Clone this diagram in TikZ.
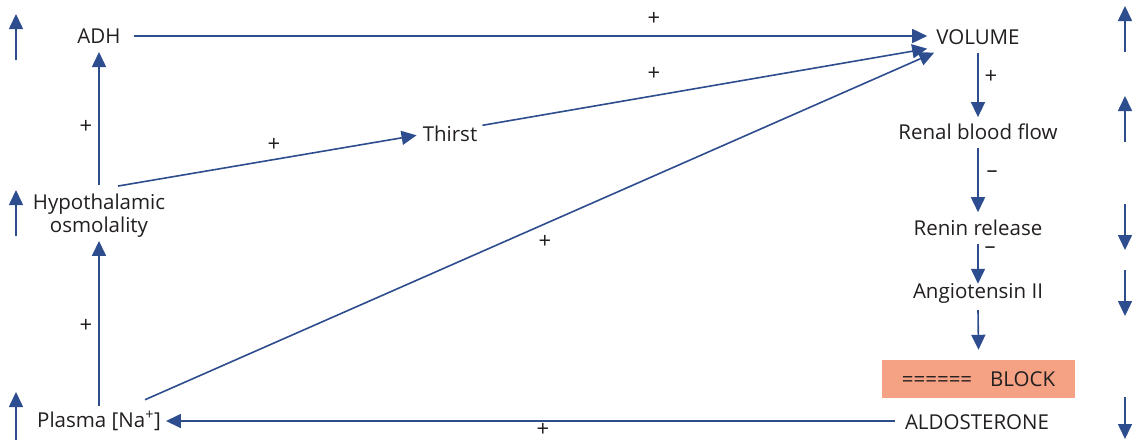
\documentclass[tikz,border=0pt]{standalone}
\usepackage{fontspec}
\setmainfont{Open Sans}
\usetikzlibrary{arrows.meta,calc}
\definecolor{ab}{HTML}{2E4D8E}
\definecolor{tx}{HTML}{231F20}
\definecolor{blk}{HTML}{F4A184}
\begin{document}
\begin{tikzpicture}[x=1pt,y=-1pt,
  lbl/.style={font=\fontsize{20.5}{23}\selectfont, text=tx, inner sep=0pt, anchor=base},
  sgn/.style={font=\fontsize{22}{24}\selectfont, text=tx, inner sep=0pt},
  arr/.style={draw=ab, line width=1.6pt, -{Triangle[width=14pt,length=15pt]}}]
\useasboundingbox (0,0) rectangle (1133,440);
\fill[white] (0,0) rectangle (1133,440);

% nodes
\node[lbl] (adh) at (99,43) {ADH};
\node[lbl] (vol) at (978,44) {VOLUME};
\node[lbl] (thirst) at (450,141) {Thirst};
\node[lbl, anchor=center, align=center] (hypo) at (99,216) {Hypothalamic\\osmolality};
\node[lbl] (plasma) at (99,427) {Plasma [Na\textsuperscript{+}]};
\node[lbl] (renal) at (978,139) {Renal blood flow};
\node[lbl] (renin) at (978,235) {Renin release};
\node[lbl] (angio) at (978,298) {Angiotensin II};
\node[fill=blk, minimum width=193pt, minimum height=38pt, inner sep=0pt,
      font=\fontsize{20.5}{23}\selectfont, text=tx] (block) at (978.5,379) {======\hspace{18pt}BLOCK};
\node[lbl] (aldo) at (977,429) {ALDOSTERONE};

% connectors
\draw[arr] ($(adh.base east)+(13,-7)$) -- ($(vol.base west)+(-9,-8)$);
\draw[arr] ($(hypo.north)+(0,-9)$) -- ($(adh.base)+(0,9)$);
\draw[arr] ($(plasma.north)+(0,-5)$) -- ($(hypo.south)+(0,3)$);
\draw[arr] ($(hypo.north)+(19,-8)$) -- ($(thirst.west)+(-6,2)$);
\draw[arr] ($(thirst.east)+(5,-8)$) -- ($(vol.west)+(-9,12)$);
\draw[arr] ($(plasma.north)+(46,-11)$) -- ($(vol.west)+(-2,16)$);
\draw[arr] ($(vol.base)+(0,9)$) -- ($(renal.north)+(0,-6)$);
\draw[arr] ($(renal.base)+(0,9)$) -- ($(renin.north)+(0,-7)$);
\draw[arr] ($(renin.base)+(0,9)$) -- ($(angio.north)+(0,1)$);
\draw[arr] ($(angio.south)+(0,7)$) -- ($(block.north)+(0,-10)$);
\coordinate (a1) at ($(aldo.base west)+(-10,-8)$);
\draw[arr] (a1) -- ($(a1 -| plasma.east)+(5,0)$);

% signs
\node[sgn] (s1) at (654,19) {+};
\node[sgn] (s2) at (654,74) {+};
\node[sgn] (s3) at (274,145) {+};
\node[sgn] (s4) at (545,242) {+};
\node[sgn] (s5) at (86,127) {+};
\node[sgn] (s6) at (86,326) {+};
\node[sgn] (s7) at (991,77) {+};
\node[sgn] (s8) at (992,174) {–};
\node[sgn] (s9) at (990,250) {–};
\node[sgn] (s10) at (543,430) {+};

% side indicator arrows
\coordinate (l1a) at (16,60);  \coordinate (l1b) at (16,14);
\coordinate (l2a) at (16,236); \coordinate (l2b) at (16,190);
\coordinate (l3a) at (16,440); \coordinate (l3b) at (16,392);
\coordinate (r1a) at (1125,52);  \coordinate (r1b) at (1125,6);
\coordinate (r2a) at (1125,142); \coordinate (r2b) at (1125,96);
\coordinate (r3a) at (1125,204); \coordinate (r3b) at (1125,250);
\coordinate (r4a) at (1125,270); \coordinate (r4b) at (1125,316);
\coordinate (r5a) at (1125,397); \coordinate (r5b) at (1125,439);
\foreach \p in {l1,l2,l3,r1,r2,r3,r4,r5} { \draw[arr] (\p a) -- (\p b); }
\end{tikzpicture}
\end{document}
